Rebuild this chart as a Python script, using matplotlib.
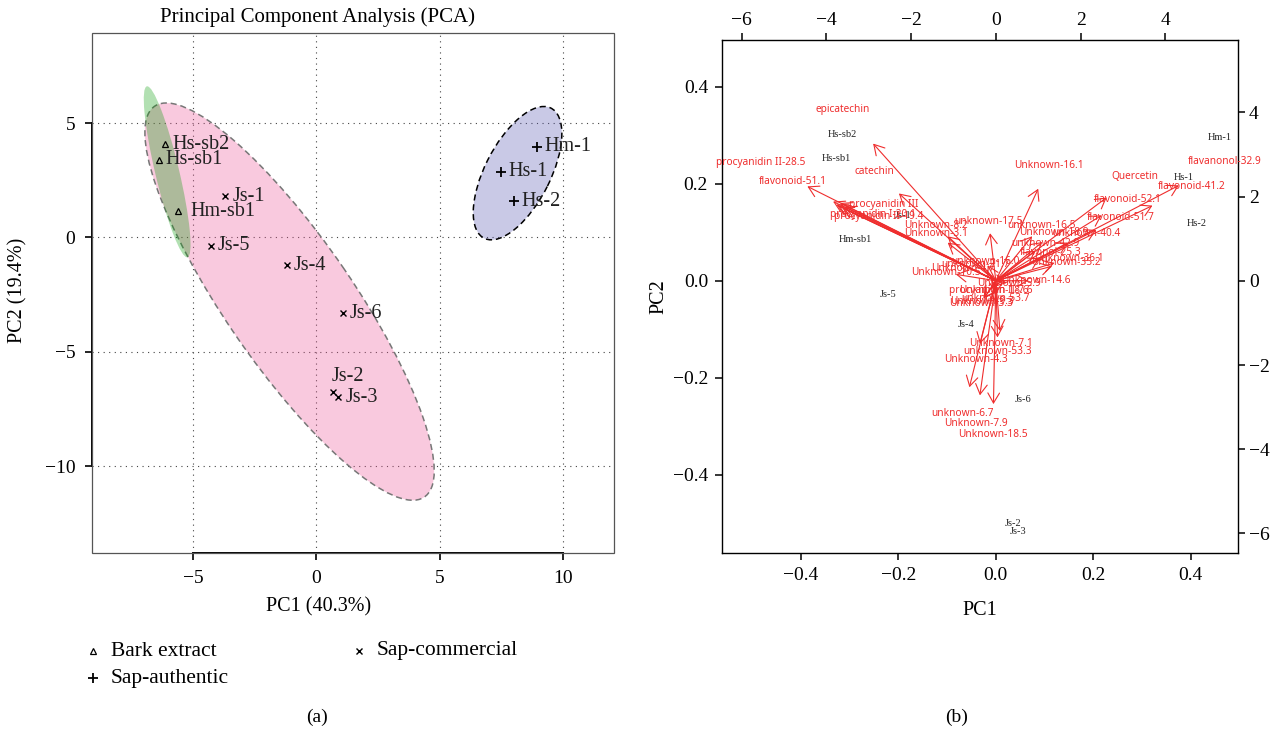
import numpy as np
import matplotlib
matplotlib.use("Agg")
import matplotlib.pyplot as plt
from matplotlib.patches import Ellipse, Rectangle
from matplotlib.lines import Line2D

# ---------------- data ----------------
samples = ["Hs-sb2", "Hs-sb1", "Hm-sb1", "Js-1", "Js-5", "Js-4", "Js-6",
           "Js-2", "Js-3", "Hm-1", "Hs-1", "Hs-2"]
sample_group = ["Bark extract"] * 3 + ["Sap-commercial"] * 6 + ["Sap-authentic"] * 3
pc1_scores = [-6.13, -6.38, -5.62, -3.69, -4.28, -1.18, 1.09, 0.67, 0.89, 8.95, 7.50, 8.03]
pc2_scores = [4.07, 3.39, 1.15, 1.80, -0.37, -1.22, -3.31, -6.76, -6.98, 3.97, 2.87, 1.59]
explained = [40.3, 19.4]

group_names = ["Bark extract", "Sap-authentic", "Sap-commercial"]

# variable loadings (biplot scale)
var_names = [
    "epicatechin", "procyanidin II-28.5", "catechin", "flavonoid-51.1",
    "procyanidin III", "procyanidin II-19.4", "procyanidin I-20.1",
    "Unknown-4.7", "unknown-21.7",
    "Unknown-8.2", "Unknown-3.1", "unknown-17.5", "Unknown-16.1",
    "unknown-16.5", "Unknown-18.9", "unknown-42.9", "unknown-40.4",
    "Quercetin", "flavanonol-32.9", "flavonoid-41.2", "flavonoid-52.1", "flavonoid-51.7",
    "flavonol-25.3", "Unknown-36.1", "Unknown-35.2",
    "Unknown-14.6", "Unknown-5.9", "Unknown-18.6", "unknown-53.7",
    "Unknown-3.3", "Unknown-9.3", "procyanidin II-7.6", "Unknown-10.5", "unknown-16.0",
    "Unknown-7.1", "unknown-53.3", "Unknown-4.3", "unknown-6.7", "Unknown-7.9", "Unknown-18.5",
]
load_pc1 = [
    -3.62, -5.56, -2.86, -4.80,
    -4.59, -4.64, -4.53,
    -4.70, -4.45,
    -1.42, -1.42, -0.17, 1.25,
    1.07, 1.37, 1.16, 2.13,
    3.27, 5.40, 4.62, 3.12, 2.96,
    1.30, 1.73, 1.66,
    0.95, 0.31, -0.05, 0.00,
    -0.36, -0.33, -0.12, -1.18, -0.24,
    0.12, 0.05, -0.47, -0.78, -0.47, -0.07,
]
load_pc2 = [
    4.07, 2.80, 2.59, 2.35,
    2.31, 2.22, 2.16,
    2.26, 2.20,
    1.32, 1.13, 1.41, 2.73,
    1.32, 1.15, 0.89, 1.13,
    2.47, 2.83, 2.23, 1.94, 1.51,
    0.67, 0.53, 0.43,
    0.00, -0.07, -0.24, -0.41,
    -0.53, -0.50, -0.22, 0.19, 0.46,
    -1.49, -1.68, -1.87, -3.16, -3.40, -3.66,
]

# ---------------- style ----------------
plt.rcParams["font.family"] = ["Liberation Serif", "DejaVu Serif"]
plt.rcParams["axes.unicode_minus"] = True

group_style = {
    "Bark extract": dict(marker="^", ms=5, mfc="none", mec="black", mew=0.9),
    "Sap-authentic": dict(marker="+", ms=7, mec="black", mew=1.3),
    "Sap-commercial": dict(marker="x", ms=4.5, mec="black", mew=1.0),
}
ellipse_style = {
    "Bark extract": dict(fc=(0.0, 0.6, 0.0, 0.30), ec="none", z=3),
    "Sap-commercial": dict(fc=(0.93, 0.35, 0.6, 0.32), ec="#777777", z=2),
    "Sap-authentic": dict(fc=(0.35, 0.35, 0.7, 0.32), ec="black", z=2),
}
label_offsets = {"Hm-sb1": (9, 0), "Js-2": (-1, 11)}
red = "#ef2d2d"
ink = "#222222"

W, H = 1282, 731
fig = plt.figure(figsize=(W / 100, H / 100), dpi=100)


def fbox(x0, y0, x1, y1):
    return [x0 / W, 1 - y1 / H, (x1 - x0) / W, (y1 - y0) / H]


# ---------------- (a) score plot ----------------
ax = fig.add_axes(fbox(92, 33, 614, 553))
ax.set_xlim(-9.09, 12.07)
ax.set_ylim(-13.8, 8.94)
ax.set_xticks([-5, 0, 5, 10])
ax.set_yticks([-10, -5, 0, 5])
ax.grid(True, color="#444444", linestyle=(0, (1, 4)), linewidth=0.8)
ax.set_axisbelow(True)
for s in ["top", "right"]:
    ax.spines[s].set_visible(False)
ax.spines["left"].set_bounds(-10, 5)
ax.spines["bottom"].set_bounds(-5, 10)
ax.spines["left"].set_linewidth(1.4)
ax.spines["bottom"].set_linewidth(1.4)
ax.add_patch(Rectangle((0, 0), 1, 1, transform=ax.transAxes, fill=False,
                       ec="#555555", lw=0.9, zorder=5, clip_on=False))
ax.tick_params(direction="out", length=5, width=1.2, labelsize=14)
ax.tick_params(axis="x", pad=7)
ax.tick_params(axis="y", pad=7)

x = np.array(pc1_scores)
y = np.array(pc2_scores)
grp = np.array(sample_group)
r95 = np.sqrt(-2 * np.log(0.05))
for g in ["Sap-commercial", "Sap-authentic", "Bark extract"]:
    m = grp == g
    pts = np.column_stack([x[m], y[m]])
    cov = np.cov(pts, rowvar=False)
    vals, vecs = np.linalg.eigh(cov)
    ang = np.degrees(np.arctan2(vecs[1, 1], vecs[0, 1]))
    st = ellipse_style[g]
    ax.add_patch(Ellipse(pts.mean(axis=0), 2 * r95 * np.sqrt(vals[1]),
                         2 * r95 * np.sqrt(vals[0]), angle=ang,
                         fc=st["fc"], ec=st["ec"], lw=1.1,
                         linestyle=(0, (4, 2.5)), zorder=st["z"]))

for xi, yi, name, g in zip(pc1_scores, pc2_scores, samples, sample_group):
    ax.plot([xi], [yi], linestyle="none", zorder=6, **group_style[g])
    dx, dy = label_offsets.get(name, (5, 0))
    ax.annotate(name, (xi, yi), xytext=(dx, dy), textcoords="offset points",
                ha="left", va="center", fontsize=14.5, color=ink, zorder=7)

fig.text(317 / W, 1 - 17 / H, "Principal Component Analysis (PCA)",
         ha="center", va="center", fontsize=15)
fig.text(319 / W, 1 - 607 / H, f"PC1 ({explained[0]}%)", ha="center",
         va="center", fontsize=14.5)
fig.text(18 / W, 1 - 290 / H, f"PC2 ({explained[1]}%)", ha="center",
         va="center", rotation=90, fontsize=14.5)

# legend below panel (a)
legend_pos = {"Bark extract": (93, 651), "Sap-authentic": (93, 678),
              "Sap-commercial": (359, 651)}
for g in group_names:
    px, py = legend_pos[g]
    st = dict(group_style[g])
    fig.add_artist(Line2D([px / W], [1 - py / H], transform=fig.transFigure,
                          linestyle="none", **st))
    fig.text((px + 18) / W, 1 - py / H, g, ha="left", va="center", fontsize=15.5)

fig.text(317 / W, 1 - 717 / H, "(a)", ha="center", va="center", fontsize=14)
fig.text(957 / W, 1 - 717 / H, "(b)", ha="center", va="center", fontsize=14)

# ---------------- (b) biplot ----------------
n = len(samples)
lam1 = np.std(x, ddof=1) * np.sqrt(n)
lam2 = np.std(y, ddof=1) * np.sqrt(n)
bx = x / lam1
by = y / lam2

lim = (-0.562, 0.497)
ratio = 11.5
pos_b = fbox(722, 40, 1238, 553)
axb = fig.add_axes(pos_b)
axb.set_xlim(lim)
axb.set_ylim(lim)
axb.set_xticks([-0.4, -0.2, 0.0, 0.2, 0.4])
axb.set_yticks([-0.4, -0.2, 0.0, 0.2, 0.4])
axb.tick_params(direction="out", length=5, width=1.1, labelsize=14, pad=5)
for s in axb.spines.values():
    s.set_linewidth(1.0)
axb.set_xlabel("PC1", fontsize=14.5, labelpad=12)
axb.set_ylabel("PC2", fontsize=14.5, labelpad=3)

for xi, yi, name in zip(bx, by, samples):
    axb.text(xi, yi, name, ha="center", va="center", fontsize=7.5, color=ink, zorder=2)

axt = fig.add_axes(pos_b, frameon=False)
axt.set_xlim(lim[0] * ratio, lim[1] * ratio)
axt.set_ylim(lim[0] * ratio, lim[1] * ratio)
axt.xaxis.tick_top()
axt.yaxis.tick_right()
axt.set_xticks([-6, -4, -2, 0, 2, 4])
axt.set_yticks([-6, -4, -2, 0, 2, 4])
axt.tick_params(direction="out", length=5, width=1.1, labelsize=14, pad=3)
axt.patch.set_visible(False)

label_nudge = {
    "procyanidin III": (1.94, -0.51),
    "procyanidin II-19.4": (1.87, -0.69),
    "procyanidin I-20.1": (1.64, -0.58),
    "Unknown-4.7": (3.92, -1.97),
    "unknown-21.7": (3.98, -1.82),
}
for name, lx, ly in zip(var_names, load_pc1, load_pc2):
    axt.annotate("", xy=(0.8 * lx, 0.8 * ly), xytext=(0, 0),
                 arrowprops=dict(arrowstyle="->,head_length=0.72,head_width=0.42",
                                 color=red, lw=0.8, shrinkA=0, shrinkB=0,
                                 mutation_scale=10), zorder=3)
    nx, ny = label_nudge.get(name, (0, 0))
    axt.text(lx + nx, ly + ny, name, ha="center", va="center", fontsize=7.3,
             color=red, family=["Noto Sans", "DejaVu Sans"], zorder=4)

fig.savefig("out.png", dpi=100)
